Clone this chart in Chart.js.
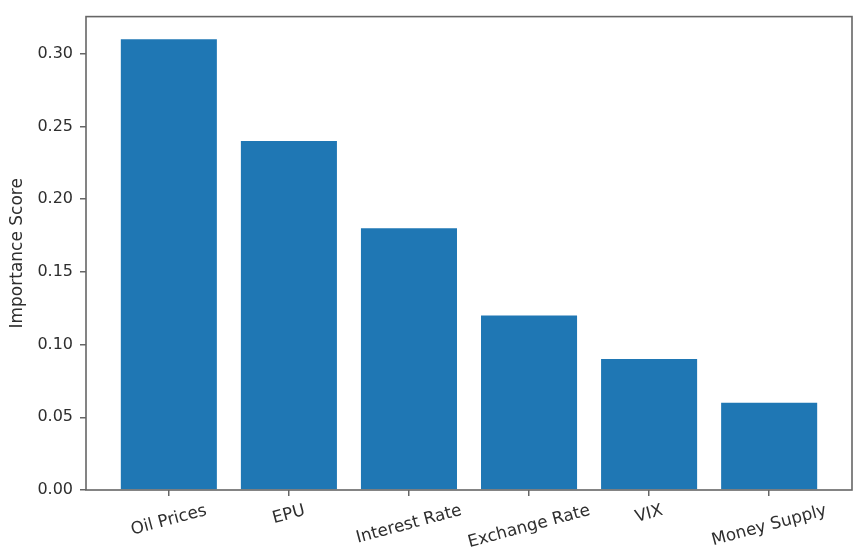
<!DOCTYPE html>
<html>
<head>
<meta charset="utf-8">
<script src="https://cdn.jsdelivr.net/npm/chart.js@4/dist/chart.umd.min.js"></script>
<style>
  html, body { margin: 0; padding: 0; background: #ffffff; }
  #wrap { width: 864px; height: 559px; }
</style>
</head>
<body>
<div id="wrap"><canvas id="c" width="864" height="559"></canvas></div>
<script>
const categories = ["Oil Prices", "EPU", "Interest Rate", "Exchange Rate", "VIX", "Money Supply"];
const importance = [0.31, 0.24, 0.18, 0.12, 0.09, 0.06];
const yTickStep = 0.05;
const yAxisTitle = "Importance Score";

const FONT = "DejaVu Sans";
const TEXT = "#2e2e2e";
const SPINE = "#666666";

const framePlugin = {
  id: "frame",
  afterDatasetsDraw(chart) {
    const a = chart.chartArea, ctx = chart.ctx;
    ctx.save();
    ctx.strokeStyle = SPINE;
    ctx.lineWidth = 1.6;
    ctx.strokeRect(a.left, a.top, a.right - a.left, a.bottom - a.top);
    ctx.restore();
  }
};

const xLabelPlugin = {
  id: "xlabels",
  afterDraw(chart) {
    const xs = chart.scales.x, a = chart.chartArea, ctx = chart.ctx;
    const ang = 15 * Math.PI / 180;
    const fs = 16.8;
    const h = fs * 1.164;
    ctx.save();
    ctx.font = fs + "px '" + FONT + "'";
    ctx.fillStyle = TEXT;
    ctx.textAlign = "center";
    ctx.textBaseline = "middle";
    categories.forEach((lab, i) => {
      const x = xs.getPixelForValue(i);
      const w = ctx.measureText(lab).width;
      const top = a.bottom + 11;
      const cy = top + (w * Math.sin(ang) + h * Math.cos(ang)) / 2;
      ctx.save();
      ctx.translate(x, cy);
      ctx.rotate(-ang);
      ctx.fillText(lab, 0, 0);
      ctx.restore();
    });
    ctx.restore();
  }
};

const maxVal = Math.max(...importance);
const xMin = -0.4 - 0.05 * (categories.length - 1 + 0.8);
const xMax = categories.length - 1 + 0.4 + 0.05 * (categories.length - 1 + 0.8);

new Chart(document.getElementById("c"), {
  type: "bar",
  data: {
    datasets: [{
      data: importance.map((v, i) => ({ x: i, y: v })),
      backgroundColor: "#1f77b4",
      borderWidth: 0,
      categoryPercentage: 0.8,
      barPercentage: 1.0
    }]
  },
  options: {
    responsive: false,
    animation: false,
    devicePixelRatio: 1,
    layout: { padding: { left: 0, top: 14, right: 12, bottom: 0 } },
    plugins: { legend: { display: false }, tooltip: { enabled: false } },
    scales: {
      x: {
        type: "linear",
        offset: false,
        min: xMin,
        max: xMax,
        afterBuildTicks: s => { s.ticks = categories.map((c, i) => ({ value: i })); },
        afterFit: s => { s.height = 69; },
        ticks: { display: false },
        border: { display: false },
        grid: { offset: false, drawOnChartArea: false, drawTicks: true, tickLength: 6, color: SPINE, lineWidth: 1.5 }
      },
      y: {
        min: 0,
        max: maxVal * 1.05,
        afterFit: s => { s.width = 86; },
        ticks: {
          stepSize: yTickStep,
          includeBounds: false,
          padding: 7,
          color: TEXT,
          font: { family: FONT, size: 16 },
          callback: v => Number(v).toFixed(2)
        },
        border: { display: false },
        grid: { drawOnChartArea: false, drawTicks: true, tickLength: 6, color: SPINE, lineWidth: 1.5 },
        title: {
          display: true,
          text: yAxisTitle,
          color: TEXT,
          font: { family: FONT, size: 17 },
          padding: { top: 7, bottom: 0 }
        }
      }
    }
  },
  plugins: [framePlugin, xLabelPlugin]
});
</script>
</body>
</html>
